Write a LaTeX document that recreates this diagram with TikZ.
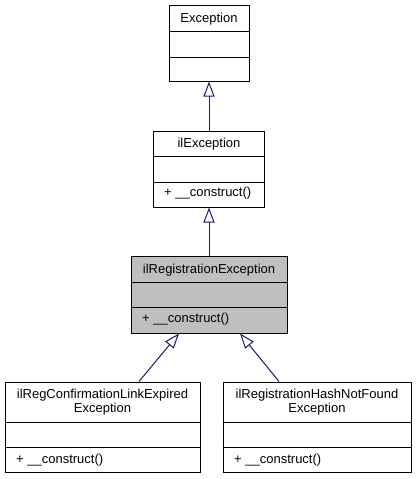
\documentclass[tikz,border=0pt]{standalone}
\usepackage{fontspec}
\setmainfont{Liberation Sans}
\usetikzlibrary{arrows.meta,calc}

\definecolor{edgeblue}{RGB}{25,25,112}
\definecolor{curgrey}{RGB}{191,191,191}

\tikzset{
  classbox/.style={draw=black, line width=1pt, inner sep=0pt, fill=white},
  divider/.style={draw=black, line width=1pt},
  title/.style={inner sep=0pt, anchor=base, align=center},
  member/.style={inner sep=0pt, anchor=base west},
  inherit/.style={draw=edgeblue, line width=1pt,
    -{Triangle[length=15pt,width=11pt,fill=white,line width=1pt]}},
}

\begin{document}
\begin{tikzpicture}[x=1pt,y=-1pt,font=\fontsize{13}{14}\selectfont]
  \useasboundingbox (0,0) rectangle (416,479);

  \node[classbox, minimum width=80pt, minimum height=76pt] (exc) at (209,43) {};
  \node[classbox, minimum width=111pt, minimum height=76pt] (ilexc) at (209,169) {};
  \node[classbox, fill=curgrey, minimum width=156pt, minimum height=77pt] (ilreg) at (209,294.5) {};
  \node[classbox, minimum width=195pt, minimum height=90pt] (conf) at (102.5,427) {};
  \node[classbox, minimum width=188pt, minimum height=90pt] (hash) at (317,427) {};

  \draw[divider] (exc.west |- 0,31) -- (exc.east |- 0,31);
  \draw[divider] (exc.west |- 0,57) -- (exc.east |- 0,57);
  \draw[divider] (ilexc.west |- 0,156) -- (ilexc.east |- 0,156);
  \draw[divider] (ilexc.west |- 0,182) -- (ilexc.east |- 0,182);
  \draw[divider] (ilreg.west |- 0,282) -- (ilreg.east |- 0,282);
  \draw[divider] (ilreg.west |- 0,307) -- (ilreg.east |- 0,307);
  \draw[divider] (conf.west |- 0,422) -- (conf.east |- 0,422);
  \draw[divider] (conf.west |- 0,447) -- (conf.east |- 0,447);
  \draw[divider] (hash.west |- 0,422) -- (hash.east |- 0,422);
  \draw[divider] (hash.west |- 0,447) -- (hash.east |- 0,447);

  \node[title] (exctitle) at (209,22) {Exception};
  \node[title] (ilexctitle) at (209,147.5) {ilException};
  \node[member] (ilexcmember) at (164,196.5) {+ \_\_construct()};
  \node[title] (ilregtitle) at (209,273) {ilRegistrationException};
  \node[member] (ilregmember) at (142,322) {+ \_\_construct()};
  \node[title] (conftitle) at (102.5,412.5) {ilRegConfirmationLinkExpired\\Exception};
  \node[member] (confmember) at (16,463) {+ \_\_construct()};
  \node[title] (hashtitle) at (317,412.5) {ilRegistrationHashNotFound\\Exception};
  \node[member] (hashmember) at (234,463) {+ \_\_construct()};

  \draw[inherit] (ilexc.north) -- (exc.south);
  \draw[inherit] (ilreg.north) -- (ilexc.south);
  \draw[inherit] ($(conf.north)+(36.5,0)$) -- ($(ilreg.south)+(-30,0)$);
  \draw[inherit] ($(hash.north)+(-38,0)$) -- ($(ilreg.south)+(31,0)$);
\end{tikzpicture}
\end{document}
